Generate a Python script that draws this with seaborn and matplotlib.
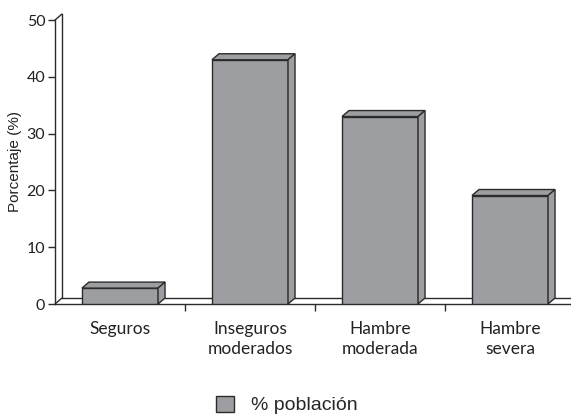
import pandas as pd
import matplotlib
matplotlib.use('Agg')
import matplotlib.pyplot as plt
from matplotlib.patches import Polygon, Patch
import seaborn as sns

# datos
categorias = ['Seguros', 'Inseguros\nmoderados', 'Hambre\nmoderada', 'Hambre\nsevera']
porcentaje = [2.8, 43.0, 33.0, 19.1]
serie = '% población'
y_ticks = [0, 10, 20, 30, 40, 50]

df = pd.DataFrame({'categoria': categorias, 'valor': porcentaje})

sns.set_theme(style='white')
plt.rcParams['font.family'] = ['Lato', 'DejaVu Sans']

W, H = 571, 416
fig = plt.figure(figsize=(W / 100, H / 100), dpi=100)
ax = fig.add_axes([55 / W, 112 / H, 520 / W, 284 / H])

gris = '#9d9ea2'
borde = '#2b2b2b'

sns.barplot(data=df, x='categoria', y='valor', color=gris, width=0.585,
            edgecolor=borde, linewidth=1, saturation=1, errorbar=None,
            ax=ax, zorder=3)

ax.set_xlim(-0.5, len(categorias) - 0.5)
ax.set_ylim(0, 50)
xmin, xmax = ax.get_xlim()
ymin, ymax = ax.get_ylim()

# profundidad del efecto 3D (en pixeles -> unidades de datos)
dx = 7 / (520 / (xmax - xmin))
dy = 6 / (284 / (ymax - ymin))

for p in ax.patches:
    x0, w, h = p.get_x(), p.get_width(), p.get_height()
    top = [(x0, h), (x0 + w, h), (x0 + w + dx, h + dy), (x0 + dx, h + dy)]
    side = [(x0 + w, 0), (x0 + w + dx, dy), (x0 + w + dx, h + dy), (x0 + w, h)]
    for pts in (top, side):
        ax.add_patch(Polygon(pts, closed=True, facecolor=gris, edgecolor=borde,
                             linewidth=1, zorder=3, clip_on=False))

# piso y pared del fondo
kw = dict(color=borde, linewidth=1, zorder=1, clip_on=False)
ax.plot([xmin + dx, xmax], [dy, dy], **kw)
ax.plot([xmin, xmin + dx], [0, dy], **kw)
ax.plot([xmin + dx, xmin + dx], [dy, ymax + dy], **kw)
ax.plot([xmin, xmin + dx], [ymax, ymax + dy], **kw)

for s in ['top', 'right']:
    ax.spines[s].set_visible(False)
for s in ['left', 'bottom']:
    ax.spines[s].set_color(borde)
    ax.spines[s].set_linewidth(1)

ax.set_xticks(range(len(categorias)))
ax.set_xticklabels(categorias, fontsize=12.5, color='#222222', linespacing=1.3)
ax.set_xticks([i + 0.5 for i in range(len(categorias) - 1)], minor=True)
ax.tick_params(axis='x', which='major', length=0, pad=12)
ax.tick_params(axis='x', which='minor', bottom=True, length=5, width=1,
               color=borde, direction='out')

ax.set_yticks(y_ticks)
ax.tick_params(axis='y', left=True, length=5, width=1, color=borde,
               labelsize=11.5, labelcolor='#222222', pad=2)

ax.set_xlabel('')
ax.set_ylabel('Porcentaje (%)', fontsize=11, family=['Liberation Sans'],
              color='#222222')
ax.yaxis.set_label_coords(-0.0635, 0.5)

fig.legend(handles=[Patch(facecolor=gris, edgecolor=borde, label=serie)],
           loc='center', bbox_to_anchor=(287 / W, 1 - 405 / H), frameon=False,
           prop={'family': ['Liberation Sans'], 'size': 14},
           handlelength=0.9, handleheight=0.9, handletextpad=0.9)

fig.savefig('out.png', dpi=100)
